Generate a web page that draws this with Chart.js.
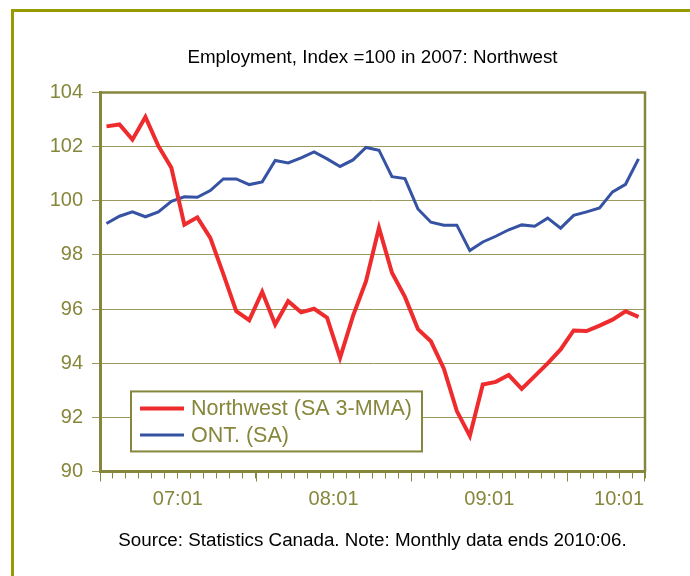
<!DOCTYPE html>
<html>
<head>
<meta charset="utf-8">
<title>Employment, Index =100 in 2007: Northwest</title>
<script src="https://cdn.jsdelivr.net/npm/chart.js@4.4.1/dist/chart.umd.min.js"></script>
<style>
  html, body { margin: 0; padding: 0; background: #fff; }
  #chart { display: block; }
</style>
</head>
<body>
<canvas id="chart" width="690" height="576"></canvas>
<script>
"use strict";

const months = [
  "07:01", "07:02", "07:03", "07:04", "07:05", "07:06", "07:07", "07:08", "07:09", "07:10", "07:11", "07:12",
  "08:01", "08:02", "08:03", "08:04", "08:05", "08:06", "08:07", "08:08", "08:09", "08:10", "08:11", "08:12",
  "09:01", "09:02", "09:03", "09:04", "09:05", "09:06", "09:07", "09:08", "09:09", "09:10", "09:11", "09:12",
  "10:01", "10:02", "10:03", "10:04", "10:05", "10:06",
];

const northwest = [
  102.75, 102.82, 102.26, 103.1, 102.02, 101.22, 99.12, 99.39, 98.63, 97.3, 95.92, 95.59,
  96.64, 95.43, 96.29, 95.88, 96.01, 95.68, 94.2, 95.75, 97.03, 99.0, 97.34, 96.45,
  95.26, 94.81, 93.8, 92.23, 91.31, 93.21, 93.31, 93.56, 93.05, 93.52, 93.99, 94.51,
  95.21, 95.19, 95.39, 95.61, 95.92, 95.71,
];

const ontario = [
  99.16, 99.43, 99.59, 99.41, 99.59, 99.98, 100.15, 100.13, 100.38, 100.81, 100.81, 100.6,
  100.7, 101.49, 101.4, 101.59, 101.81, 101.55, 101.27, 101.51, 101.97, 101.87, 100.89, 100.82,
  99.7, 99.21, 99.1, 99.1, 98.16, 98.48, 98.69, 98.93, 99.11, 99.06, 99.36, 98.99,
  99.46, 99.59, 99.74, 100.33, 100.61, 101.55,
];

const seriesNames = ["Northwest (SA 3-MMA)", "ONT. (SA)"];
const yTicks = [90, 92, 94, 96, 98, 100, 102, 104];

const OLIVE = "#86863c";
const GRID = "#9a9a5c";
const FRAME = "#999900";
const FONT = "'Liberation Sans', Arial, sans-serif";

// one label per year, placed in the middle of its block of months
function yearLabel(index) {
  const start = index - (index % 12);
  const where = Math.min(start + 5, months.length - 3);
  return index === where ? months[start] : "";
}

const framePlugin = {
  id: "frame",
  beforeDraw(chart) {
    const ctx = chart.ctx;
    ctx.save();
    ctx.fillStyle = "#fff";
    ctx.fillRect(0, 0, chart.width, chart.height);
    ctx.strokeStyle = FRAME;
    ctx.lineWidth = 3;
    ctx.beginPath();
    ctx.moveTo(12.5, chart.height + 5);
    ctx.lineTo(12.5, 10.5);
    ctx.lineTo(chart.width + 5, 10.5);
    ctx.stroke();
    ctx.restore();
  },
  beforeDatasetsDraw(chart) {
    const { ctx, chartArea: a } = chart;
    ctx.save();
    ctx.strokeStyle = OLIVE;
    ctx.lineWidth = 2.5;
    ctx.beginPath();
    ctx.moveTo(a.left, a.top);
    ctx.lineTo(a.right, a.top);
    ctx.lineTo(a.right, a.bottom);
    ctx.stroke();
    // longer tick marks at the start of each year
    ctx.lineWidth = 1;
    const step = (a.right - a.left) / months.length;
    ctx.beginPath();
    for (let i = 0; i <= months.length; i += 12) {
      const px = Math.round(a.left + i * step) + 0.5;
      ctx.moveTo(px, a.bottom);
      ctx.lineTo(px, a.bottom + 10);
    }
    ctx.moveTo(a.right - 0.5, a.bottom);
    ctx.lineTo(a.right - 0.5, a.bottom + 10);
    ctx.stroke();
    ctx.restore();
  },
};

const boxLegend = {
  id: "boxLegend",
  afterDraw(chart) {
    const { ctx, chartArea: a } = chart;
    const x = a.left + 31, y = a.bottom - 80, w = 291, h = 60;
    ctx.save();
    ctx.fillStyle = "#fff";
    ctx.fillRect(x, y, w, h);
    ctx.strokeStyle = OLIVE;
    ctx.lineWidth = 2;
    ctx.strokeRect(x, y, w, h);
    ctx.font = "21.5px " + FONT;
    ctx.textBaseline = "middle";
    ctx.fillStyle = OLIVE;
    chart.data.datasets.forEach((ds, i) => {
      const ly = y + 17 + i * 26.5;
      ctx.strokeStyle = ds.borderColor;
      ctx.lineWidth = ds.borderWidth;
      ctx.beginPath();
      ctx.moveTo(x + 9, ly);
      ctx.lineTo(x + 53, ly);
      ctx.stroke();
      ctx.fillText(ds.label, x + 60, ly + 1);
    });
    ctx.restore();
  },
};

new Chart(document.getElementById("chart"), {
  type: "line",
  data: {
    labels: months,
    datasets: [
      {
        label: seriesNames[0],
        data: northwest,
        borderColor: "#ee2c2e",
        borderWidth: 4,
        pointRadius: 0,
        tension: 0,
      },
      {
        label: seriesNames[1],
        data: ontario,
        borderColor: "#3552a3",
        borderWidth: 3,
        pointRadius: 0,
        tension: 0,
      },
    ],
  },
  options: {
    responsive: false,
    animation: false,
    devicePixelRatio: 1,
    layout: { padding: { top: 47, right: 45, bottom: 24, left: 0 } },
    scales: {
      x: {
        type: "category",
        offset: true,
        afterFit: (scale) => {
          scale.height = 47;
        },
        grid: {
          offset: true,
          drawOnChartArea: false,
          tickLength: 7,
          color: OLIVE,
          lineWidth: 1,
        },
        border: { color: OLIVE, width: 3 },
        ticks: {
          autoSkip: false,
          maxRotation: 0,
          minRotation: 0,
          padding: 9,
          labelOffset: 6.5,
          color: OLIVE,
          font: { family: FONT, size: 20 },
          callback: (value, index) => yearLabel(index),
        },
      },
      y: {
        min: yTicks[0],
        max: yTicks[yTicks.length - 1],
        afterBuildTicks: (scale) => {
          scale.ticks = yTicks.map((v) => ({ value: v }));
        },
        afterFit: (scale) => {
          scale.width = 100;
        },
        grid: { color: GRID, lineWidth: 1, tickLength: 8 },
        border: { color: OLIVE, width: 3 },
        ticks: {
          padding: 9,
          color: OLIVE,
          font: { family: FONT, size: 20 },
        },
      },
    },
    plugins: {
      legend: { display: false },
      tooltip: { enabled: false },
      title: {
        display: true,
        fullSize: false,
        text: "Employment, Index =100 in 2007: Northwest",
        color: "#000",
        font: { family: FONT, size: 18.8, weight: "normal" },
        padding: { top: 0, bottom: 23 },
      },
      subtitle: {
        display: true,
        fullSize: false,
        position: "bottom",
        text: "Source: Statistics Canada. Note: Monthly data ends 2010:06.",
        color: "#000",
        font: { family: FONT, size: 18.8, weight: "normal" },
        padding: { top: 11, bottom: 0 },
      },
    },
  },
  plugins: [framePlugin, boxLegend],
});
</script>
</body>
</html>
